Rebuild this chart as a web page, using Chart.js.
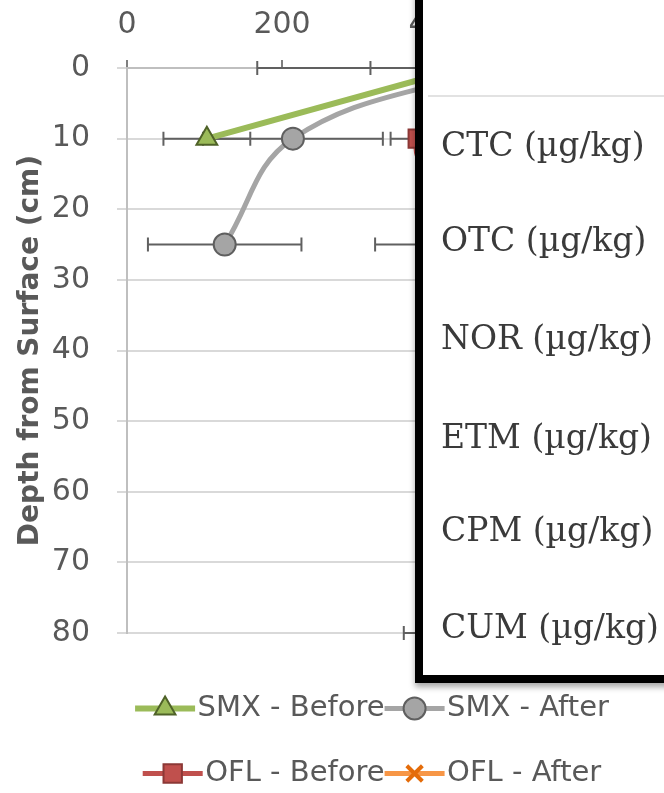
<!DOCTYPE html>
<html>
<head>
<meta charset="utf-8">
<script src="https://cdn.jsdelivr.net/npm/chart.js@4/dist/chart.umd.min.js"></script>
<style>
  html, body { margin: 0; padding: 0; width: 664px; height: 793px; overflow: hidden; background: #fff; }
  #wrap { position: absolute; left: 0; top: 0; width: 744px; height: 816px; }
  #popup { position: absolute; left: 415px; top: -40px; width: 420px; height: 723px; box-sizing: border-box;
           border: 8px solid #000; background: #fff; box-shadow: 0 4px 6px rgba(0,0,0,0.35); }
  #popupRule { position: absolute; left: 428px; top: 95px; width: 300px; height: 2px; background: #e2e2e2; }
  .plabel { position: absolute; left: 441px; font-family: 'DejaVu Serif', serif; font-size: 33px; line-height: 33px;
            color: #3a3a3a; white-space: nowrap; }
</style>
</head>
<body>
<div id="wrap"><canvas id="c"></canvas></div>
<div id="popup"></div>
<div id="popupRule"></div>
<div id="labels"></div>
<script>
// ---- data ----
const xTicks = [0, 200, 400, 600];
const depthTicks = [0, 10, 20, 30, 40, 50, 60, 70, 80];
const seriesNames = ['SMX - Before', 'SMX - After', 'OFL - Before', 'OFL - After'];

const smxBeforeDepth = [0, 10];
const smxBeforeValue = [432, 103];
const smxBeforeError = [264, 56];

const smxAfterDepth = [0, 10, 25];
const smxAfterValue = [468, 214, 126];
const smxAfterError = [154, 116, 99];

const oflBeforeDepth = [0, 10, 25];
const oflBeforeValue = [560, 375, 470];
const oflBeforeError = [90, 35, 150];

const oflAfterDepth = [0, 10, 25, 80];
const oflAfterValue = [590, 520, 540, 430];
const oflAfterError = [60, 50, 60, 73];

const popupLabels = ['CTC (µg/kg)', 'OTC (µg/kg)', 'NOR (µg/kg)', 'ETM (µg/kg)', 'CPM (µg/kg)', 'CUM (µg/kg)'];
const popupLabelTops = [128, 223, 321, 420, 513, 610];

// popup text
const lab = document.getElementById('labels');
popupLabels.forEach((t, i) => {
  const d = document.createElement('div');
  d.className = 'plabel';
  d.style.top = popupLabelTops[i] + 'px';
  d.textContent = t;
  lab.appendChild(d);
});

function pts(depths, values) {
  return depths.map((d, i) => ({ x: values[i], y: d }));
}

Chart.defaults.font.family = "'DejaVu Sans', sans-serif";
Chart.defaults.color = '#595959';

const errorBars = {
  id: 'errorBars',
  beforeDatasetsDraw(chart) {
    const { ctx, chartArea, scales: { x, y } } = chart;
    ctx.save();
    ctx.beginPath();
    ctx.rect(chartArea.left, chartArea.top - 10, chartArea.right - chartArea.left, chartArea.bottom - chartArea.top + 20);
    ctx.clip();
    ctx.strokeStyle = '#606060';
    ctx.lineWidth = 2;
    chart.data.datasets.forEach((ds, i) => {
      if (!chart.isDatasetVisible(i) || !ds.errors) return;
      ds.data.forEach((p, j) => {
        const e = ds.errors[j];
        const yp = y.getPixelForValue(p.y);
        const x0 = x.getPixelForValue(p.x - e);
        const x1 = x.getPixelForValue(p.x + e);
        ctx.beginPath();
        ctx.moveTo(x0, yp); ctx.lineTo(x1, yp);
        ctx.moveTo(x0, yp - 7); ctx.lineTo(x0, yp + 7);
        ctx.moveTo(x1, yp - 7); ctx.lineTo(x1, yp + 7);
        ctx.stroke();
      });
    });
    ctx.restore();
  }
};

const legendMarkers = {
  id: 'legendMarkers',
  afterDraw(chart) {
    const lg = chart.legend;
    if (!lg || !lg.legendHitBoxes) return;
    const ctx = chart.ctx;
    const bw = lg.options.labels.boxWidth;
    const len = bw + 12;
    lg.legendItems.forEach((item, i) => {
      const hb = lg.legendHitBoxes[i];
      const ds = chart.data.datasets[item.datasetIndex];
      const cy = hb.top + hb.height / 2;
      ctx.save();
      ctx.strokeStyle = ds.borderColor;
      ctx.lineWidth = ds.borderWidth;
      ctx.beginPath();
      ctx.moveTo(hb.left, cy); ctx.lineTo(hb.left + len, cy);
      ctx.stroke();
      ctx.fillStyle = ds.pointBackgroundColor;
      ctx.strokeStyle = ds.pointBorderColor;
      ctx.lineWidth = ds.pointBorderWidth;
      Chart.helpers.drawPoint(ctx, { pointStyle: ds.pointStyle, radius: ds.pointRadius, rotation: 0, borderWidth: ds.pointBorderWidth }, hb.left + len / 2, cy);
      ctx.restore();
    });
  }
};

new Chart(document.getElementById('c'), {
  type: 'scatter',
  data: {
    datasets: [
      { label: seriesNames[0], data: pts(smxBeforeDepth, smxBeforeValue), errors: smxBeforeError,
        showLine: true, tension: 0, borderColor: '#9bbb59', borderWidth: 6,
        pointStyle: 'triangle', pointRadius: 12, pointBackgroundColor: '#9bbb59', pointBorderColor: '#4f6228', pointBorderWidth: 2 },
      { label: seriesNames[1], data: pts(smxAfterDepth, smxAfterValue), errors: smxAfterError,
        showLine: true, tension: 0.4, borderColor: '#a5a5a5', borderWidth: 5,
        pointStyle: 'circle', pointRadius: 11, pointBackgroundColor: '#a5a5a5', pointBorderColor: '#5f5f5f', pointBorderWidth: 2 },
      { label: seriesNames[2], data: pts(oflBeforeDepth, oflBeforeValue), errors: oflBeforeError,
        showLine: true, tension: 0.4, borderColor: '#c0504d', borderWidth: 5,
        pointStyle: 'rect', pointRadius: 13, pointBackgroundColor: '#c0504d', pointBorderColor: '#8c3836', pointBorderWidth: 2 },
      { label: seriesNames[3], data: pts(oflAfterDepth, oflAfterValue), errors: oflAfterError,
        showLine: true, tension: 0.4, borderColor: '#f79646', borderWidth: 5,
        pointStyle: 'crossRot', pointRadius: 11, pointBackgroundColor: '#f79646', pointBorderColor: '#e46c0a', pointBorderWidth: 4 }
    ]
  },
  options: {
    responsive: true,
    maintainAspectRatio: false,
    animation: false,
    events: [],
    layout: { padding: { left: 10, right: 10, top: 7, bottom: 0 } },
    scales: {
      x: {
        type: 'linear', position: 'top', min: 0, max: 632,
        afterBuildTicks(s) { s.ticks = xTicks.map(v => ({ value: v })); },
        afterFit(s) { s.height = 61; },
        ticks: { font: { size: 30 }, color: '#595959', padding: 17 },
        grid: { drawOnChartArea: false, drawTicks: true, tickLength: 8, color: '#7f7f7f', lineWidth: 2 },
        border: { display: true, color: '#bfbfbf', width: 2 }
      },
      y: {
        type: 'linear', position: 'left', reverse: true, min: depthTicks[0], max: depthTicks[depthTicks.length - 1],
        afterBuildTicks(s) { s.ticks = depthTicks.map(v => ({ value: v })); },
        afterFit(s) { s.width = 117; },
        ticks: { font: { size: 30 }, color: '#595959', padding: 27 },
        grid: { color: '#d9d9d9', lineWidth: 2, tickLength: 10, drawTicks: true },
        border: { display: true, color: '#bfbfbf', width: 2 },
        title: { display: true, text: 'Depth from Surface (cm)', color: '#595959',
                 font: { size: 28, weight: 'bold' }, padding: { top: 4, bottom: 4 } }
      },
      y2: {
        type: 'linear', position: 'right', display: true,
        grid: { display: false }, ticks: { display: false }, border: { display: false },
        afterFit(s) { s.width = 117; }
      }
    },
    plugins: {
      tooltip: { enabled: false },
      legend: {
        position: 'bottom', align: 'center', fullSize: false,
        title: { display: true, text: ' ', padding: 0, font: { size: 30, lineHeight: 1.43 } },
        labels: {
          boxWidth: 48, boxHeight: 65, padding: 0, color: '#595959', font: { size: 29 },
          generateLabels(chart) {
            const items = Chart.defaults.plugins.legend.labels.generateLabels(chart);
            items.forEach(it => { it.fillStyle = 'rgba(0,0,0,0)'; it.strokeStyle = 'rgba(0,0,0,0)'; it.lineWidth = 0; });
            return items;
          }
        }
      }
    }
  },
  plugins: [errorBars, legendMarkers]
});
</script>
</body>
</html>
